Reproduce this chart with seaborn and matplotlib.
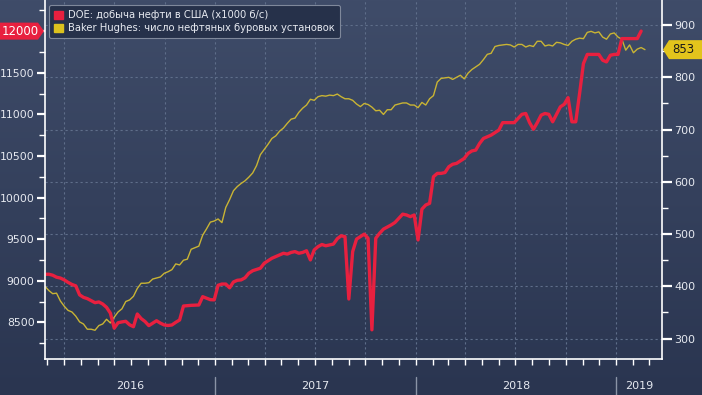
import numpy as np
import pandas as pd
import matplotlib
matplotlib.use("Agg")
import matplotlib.pyplot as plt
import matplotlib.dates as mdates
from matplotlib.colors import LinearSegmentedColormap
from matplotlib.patches import Polygon, Patch
from matplotlib.ticker import FixedLocator
import seaborn as sns

# ---------------- data (weekly, starting 2016-02-26) ----------------
start_date = "2016-02-26"
end_date = "2019-03-25"

doe_label = "DOE: добыча нефти в США (x1000 б/с)"
rig_label = "Baker Hughes: число нефтяных буровых установок"

doe_output = [
    9077, 9078, 9066, 9042, 9032, 9010, 8980, 8955, 8938, 8830,
    8800, 8785, 8760, 8736, 8745, 8720, 8680, 8610, 8430, 8495,
    8505, 8512, 8470, 8447, 8600, 8545, 8510, 8460, 8490, 8519,
    8490, 8468, 8462, 8468, 8500, 8528, 8696, 8700, 8704, 8706,
    8708, 8808, 8790, 8772, 8770, 8945, 8960, 8960, 8915, 8985,
    9005, 9010, 9035, 9090, 9120, 9135, 9150, 9210, 9240, 9270,
    9290, 9310, 9330, 9320, 9340, 9350, 9330, 9340, 9360, 9250,
    9370, 9410, 9435, 9420, 9430, 9440, 9505, 9540, 9530, 8780,
    9350, 9500, 9530, 9560, 9510, 8410, 9510, 9570, 9620, 9645,
    9670, 9700, 9750, 9800, 9790, 9770, 9790, 9490, 9860, 9910,
    9930, 10250, 10290, 10290, 10300, 10370, 10400, 10410, 10440, 10470,
    10530, 10560, 10570, 10650, 10710, 10730, 10750, 10780, 10810, 10900,
    10900, 10900, 10900, 10950, 11000, 11010, 10900, 10820, 10900, 10990,
    11010, 11000, 10910, 11000, 11090, 11120, 11200, 10910, 10910, 11250,
    11610, 11720, 11720, 11720, 11720, 11650, 11630, 11710, 11720, 11720,
    11910, 11910, 11910, 11910, 11910, 12000,
]

rig_count = [
    400, 392, 386, 387, 372, 362, 354, 351, 343, 332,
    328, 318, 318, 316, 325, 328, 337, 330, 341, 351,
    357, 371, 374, 381, 396, 406, 406, 407, 414, 416,
    418, 425, 428, 432, 443, 441, 450, 452, 471, 474,
    477, 498, 510, 523, 525, 529, 522, 551, 566, 583,
    591, 597, 602, 609, 617, 631, 652, 662, 672, 683,
    688, 697, 703, 712, 720, 722, 733, 741, 747, 758,
    756, 763, 765, 764, 766, 765, 768, 763, 759, 759,
    756, 749, 744, 750, 748, 743, 736, 737, 729, 738,
    738, 747, 749, 751, 751, 747, 747, 742, 752, 747,
    759, 765, 791, 798, 799, 800, 796, 800, 804, 797,
    808, 815, 820, 825, 834, 844, 846, 859, 861, 862,
    863, 862, 858, 863, 863, 858, 861, 859, 869, 869,
    860, 862, 860, 867, 866, 863, 861, 869, 873, 875,
    874, 886, 888, 885, 887, 877, 873, 883, 885, 877,
    873, 852, 862, 847, 854, 857, 853,
]

year_labels = ["2016", "2017", "2018", "2019"]
left_ticks = [8500, 9000, 9500, 10000, 10500, 11000, 11500, 12000]
right_ticks = [300, 400, 500, 600, 700, 800, 900]

doe_df = pd.DataFrame({"date": pd.date_range(start_date, periods=len(doe_output), freq="7D"),
                       "value": doe_output})
rig_df = pd.DataFrame({"date": pd.date_range(start_date, periods=len(rig_count), freq="7D"),
                       "value": rig_count})

# ---------------- style ----------------
sns.set_theme(style="dark")
plt.rcParams['font.family'] = ['DejaVu Sans']

RED = "#e8203f"
YEL = "#c9b434"
TXT = "#e6e9f0"
GRID = "#5f6e8a"

W, H = 702, 395
fig = plt.figure(figsize=(W / 100, H / 100), dpi=100)

# gradient background
bg = fig.add_axes([0, 0, 1, 1], zorder=-10)
grad = np.linspace(0, 1, 256).reshape(-1, 1)
cmap = LinearSegmentedColormap.from_list("bg", ["#3f4c69", "#2a3550"])
bg.imshow(grad, aspect="auto", cmap=cmap, extent=[0, 1, 0, 1], origin="upper")
bg.set_axis_off()

L, R, B, T = 45, 662, 359, 0
ax2 = fig.add_axes([L / W, (H - B) / H, (R - L) / W, (B - T) / H])  # right axis (rigs), grid
ax2.patch.set_alpha(0)
ax = ax2.twinx()
ax.yaxis.tick_left()
ax.yaxis.set_label_position("left")
ax2.yaxis.tick_right()
ax2.yaxis.set_label_position("right")
ax.set_zorder(ax2.get_zorder() + 1)
ax.patch.set_visible(False)

sns.lineplot(data=rig_df, x="date", y="value", ax=ax2, color=YEL, linewidth=1.0)
sns.lineplot(data=doe_df, x="date", y="value", ax=ax, color=RED, linewidth=2.4)

xmin, xmax = pd.Timestamp(start_date), pd.Timestamp(end_date)
ax.set_xlim(xmin, xmax)
ax2.set_xlim(xmin, xmax)
ax.set_ylim(8059, 12374)
ax2.set_ylim(261, 948)

for a in (ax, ax2):
    a.set_xlabel("")
    a.set_ylabel("")
    for s in a.spines.values():
        s.set_visible(False)

ax2.spines["bottom"].set_visible(True)
ax2.spines["bottom"].set_color("white")
ax2.spines["bottom"].set_linewidth(1.2)
ax.spines["left"].set_visible(True)
ax.spines["left"].set_color("white")
ax.spines["left"].set_linewidth(1.2)
ax2.spines["right"].set_visible(True)
ax2.spines["right"].set_color("white")
ax2.spines["right"].set_linewidth(1.2)

# left ticks
ax.set_yticks(left_ticks)
ax.set_yticklabels([str(v) for v in left_ticks[:-1]] + [""])
ax.yaxis.set_minor_locator(FixedLocator([v + 250 for v in [8000] + left_ticks]))
ax.tick_params(axis="y", which="major", colors="white", labelcolor=TXT, length=6, width=1.6,
               labelsize=7.8, pad=1.5, left=True, right=False)
ax.tick_params(axis="y", which="minor", colors="white", length=4, width=1, left=True, right=False)

# right ticks
ax2.set_yticks(right_ticks)
ax2.yaxis.set_minor_locator(FixedLocator([v + 50 for v in [250] + right_ticks]))
ax2.tick_params(axis="y", which="major", colors="white", labelcolor=TXT, length=7, width=1.6,
                labelsize=8, pad=2, right=True, left=False)
ax2.tick_params(axis="y", which="minor", colors="white", length=4, width=1, right=True, left=False)

# x ticks: monthly minor ticks, quarterly grid
ax2.xaxis.set_major_locator(mdates.MonthLocator(bymonth=[1, 4, 7, 10]))
ax2.xaxis.set_minor_locator(mdates.MonthLocator())
ax2.xaxis.set_major_formatter(plt.NullFormatter())
ax2.tick_params(axis="x", which="both", colors="white", length=4, width=1, bottom=True)
ax.tick_params(axis="x", which="both", bottom=False, labelbottom=False)

ax2.grid(True, which="major", axis="both", color=GRID, linestyle=(0, (2, 2.5)), linewidth=0.8)
ax.grid(False)

# year labels and separators
xform = ax2.get_xaxis_transform()
for lab in year_labels:
    y0 = pd.Timestamp(f"{lab}-01-01")
    y1 = pd.Timestamp(f"{int(lab) + 1}-01-01")
    a0, a1 = max(y0, xmin), min(y1, xmax)
    mid = a0 + (a1 - a0) / 2
    ax2.text(mid, -0.075, lab, transform=xform, ha="center", va="center",
             color=TXT, fontsize=8)
    if y0 > xmin:
        ax2.plot([y0, y0], [-0.05, -0.1], transform=xform, color="#8a93a6",
                 linewidth=1, clip_on=False)

# legend
handles = [Patch(facecolor=RED, edgecolor=RED), Patch(facecolor="#dcc21e", edgecolor="#dcc21e")]
leg = ax.legend(handles, [doe_label, rig_label], loc="upper left", bbox_to_anchor=(-0.001, 1.0),
                fontsize=7.2, frameon=True, facecolor="#26314a", edgecolor="#7f889b",
                labelcolor=TXT, handlelength=0.85, handleheight=0.85, handletextpad=0.55,
                borderpad=0.5, labelspacing=0.3, fancybox=True, framealpha=1.0)
leg.get_frame().set_linewidth(0.8)
leg.set_zorder(20)

# value tags
fig.canvas.draw()
yr = ax.transData.transform((0, doe_output[-1]))[1]
yy = ax2.transData.transform((0, rig_count[-1]))[1]

def fx(px):
    return px / W

def fy(py):
    return py / H

hr = 8.5
red_poly = Polygon([(fx(0), fy(yr - hr)), (fx(38), fy(yr - hr)), (fx(44), fy(yr)),
                    (fx(38), fy(yr + hr)), (fx(0), fy(yr + hr))],
                   closed=True, transform=fig.transFigure, facecolor=RED, edgecolor="none", zorder=30)
fig.add_artist(red_poly)
fig.text(fx(20), fy(yr), f"{doe_output[-1]}", ha="center", va="center", color="white",
         fontsize=8.5, zorder=31)

hy = 9.5
yel_poly = Polygon([(fx(663), fy(yy)), (fx(669), fy(yy - hy)), (fx(702), fy(yy - hy)),
                    (fx(702), fy(yy + hy)), (fx(669), fy(yy + hy))],
                   closed=True, transform=fig.transFigure, facecolor="#e3c41c", edgecolor="none", zorder=30)
fig.add_artist(yel_poly)
fig.text(fx(683), fy(yy), f"{rig_count[-1]}", ha="center", va="center", color="#1a1a1a",
         fontsize=8.5, zorder=31)

fig.savefig("out.png", dpi=100)
